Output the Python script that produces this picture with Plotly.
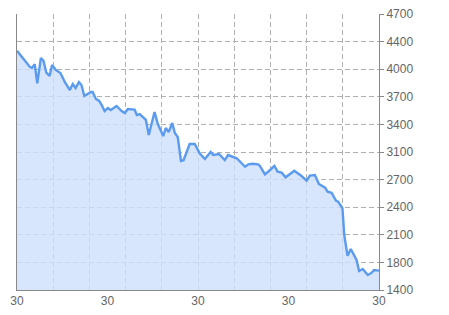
import plotly.graph_objects as go
import numpy as np

# x position (0..100 across the chart) and value
x_pos = [0, 3.5, 4.1, 4.9, 5.6, 6.6, 7.3, 8.1, 9.0, 9.7, 10.7, 12.0, 13.2, 14.6, 15.4, 16.2,
         17.1, 17.8, 18.6, 19.5, 20.4, 20.9, 21.8, 22.7, 23.4, 24.2, 25.1, 25.9, 27.5, 28.9,
         29.8, 30.6, 31.6, 32.5, 33.1, 33.9, 35.6, 36.4, 38.0, 38.9, 40.4, 41.1, 41.9, 42.9,
         43.6, 44.4, 45.3, 46.0, 47.7, 49.1, 50.5, 51.9, 53.5, 54.2, 55.8, 57.4, 58.3, 60.7,
         63.0, 63.9, 65.0, 66.6, 67.1, 68.5, 69.9, 71.1, 72.0, 73.1, 74.2, 76.6, 78.6, 80.0,
         80.9, 82.3, 83.4, 85.1, 85.8, 86.9, 88.1, 88.7, 89.5, 89.9, 90.4, 91.3, 92.2, 93.2,
         93.8, 94.5, 95.5, 96.9, 98.0, 98.6, 100]
values = [4261, 4070, 4054, 4099, 3871, 4174, 4142, 3998, 3959, 4090, 4031, 3995, 3887, 3791,
          3863, 3815, 3887, 3851, 3720, 3744, 3767, 3767, 3684, 3660, 3612, 3540, 3576, 3552,
          3600, 3540, 3516, 3564, 3556, 3556, 3492, 3504, 3433, 3253, 3528, 3385, 3241, 3337,
          3289, 3397, 3277, 3229, 2942, 2951, 3146, 3146, 3032, 2966, 3050, 3014, 3026, 2954,
          3014, 2975, 2874, 2903, 2910, 2903, 2883, 2783, 2835, 2883, 2815, 2803, 2748, 2826,
          2763, 2707, 2767, 2775, 2667, 2623, 2575, 2563, 2468, 2456, 2404, 2377, 2058, 1810,
          1890, 1798, 1759, 1627, 1651, 1579, 1607, 1639, 1631]

y_ticks = list(np.linspace(1400, 4700, 11))
y_labels = ["1400", "1800", "2100", "2400", "2700", "3100", "3400", "3700", "4000", "4400", "4700"]
x_ticks = [0, 25, 50, 75, 100]
x_labels = ["30", "30", "30", "30", "30"]

fig = go.Figure()
fig.add_trace(go.Scatter(
    x=x_pos, y=values, mode="lines",
    line=dict(color="#5b9bef", width=2.4),
    fill="tozeroy", fillcolor="rgba(205,222,252,0.8)",
    hoverinfo="skip",
))

grid = "#b0b0b0"
fig.update_layout(
    width=449, height=315,
    margin=dict(l=17, r=70, t=14, b=25),
    paper_bgcolor="white", plot_bgcolor="white",
    showlegend=False,
    font=dict(family="Liberation Sans, Arial, sans-serif", size=11, color="#666666"),
    xaxis=dict(
        range=[0, 100], tickvals=x_ticks, ticktext=x_labels, automargin=False,
        showgrid=False, zeroline=False, ticks="",
        showline=True, linecolor="#888888", linewidth=1,
        minor=dict(dtick=10, tick0=0, showgrid=True, gridcolor=grid, griddash="5px,3px", gridwidth=1),
        tickfont=dict(size=12, color="#666666"),
    ),
    yaxis=dict(
        range=[1400, 4700], side="right", tickvals=y_ticks, ticktext=y_labels, automargin=False,
        showgrid=True, gridcolor=grid, griddash="5px,3px", gridwidth=1, zeroline=False,
        showline=True, mirror=True, linecolor="#888888", linewidth=1,
        ticks="outside", ticklen=4, tickcolor="#888888",
        tickfont=dict(size=12, color="#666666"),
    ),
)
fig.write_html("out.html")
